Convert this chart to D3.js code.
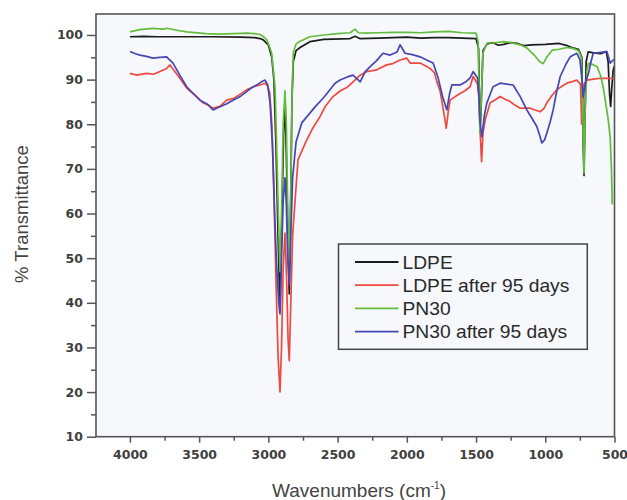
<!DOCTYPE html>
<html>
<head>
<meta charset="utf-8">
<script src="https://cdn.jsdelivr.net/npm/d3@7"></script>
<style>
  html, body { margin: 0; padding: 0; background: #ffffff; }
  svg { display: block; }
</style>
</head>
<body>
<div id="chart"></div>
<script>
// ---- Data (wavenumber cm-1, % transmittance) ----
const ldpe = [
  [4000, 99.6], [3900, 99.7], [3800, 99.6], [3600, 99.6], [3400, 99.6], [3200, 99.5], [3100, 99.4],
  [3060, 99.2], [3037, 98.9], [3001, 97.8], [2976, 95.1], [2960, 90], [2945, 75], [2930, 55],
  [2916, 38], [2905, 55], [2890, 78], [2878, 84], [2868, 70], [2858, 52], [2849, 42], [2840, 60],
  [2830, 85], [2820, 94], [2800, 96.5], [2771, 97.2], [2700, 98.5], [2600, 99], [2410, 99.2],
  [2374, 99.7], [2340, 99.2], [2200, 99.3], [2100, 99.4], [2000, 99.5], [1900, 99.3], [1800, 99.4],
  [1700, 99.4], [1600, 99.3], [1500, 99.2], [1482, 97], [1471, 78], [1462, 85], [1450, 96.5],
  [1420, 98], [1380, 98.3], [1340, 97.7], [1300, 97.9], [1250, 98.3], [1200, 98.1], [1150, 97.6],
  [1100, 97.8], [1000, 97.9], [900, 98.1], [840, 97.6], [799, 97.1], [760, 96.8], [736, 95],
  [726, 75], [720, 68.5], [714, 80], [705, 94], [690, 96.2], [650, 96], [600, 95.8], [560, 96.3],
  [546, 94], [536, 87], [528, 84], [520, 88], [510, 92], [502, 93]
];
const ldpeAged = [
  [4000, 91.4], [3950, 91], [3879, 91.4], [3830, 91.2], [3783, 91.8], [3735, 92.5], [3711, 93.3],
  [3680, 92], [3639, 90.3], [3590, 88.1], [3530, 86.5], [3472, 84.8], [3430, 84.2], [3400, 83.6],
  [3350, 84], [3301, 85.4], [3250, 85.8], [3200, 86.8], [3157, 87.7], [3100, 88.5], [3060, 88.8],
  [3024, 89.2], [3005, 88.5], [2990, 87], [2975, 80], [2960, 65], [2945, 45], [2930, 28],
  [2916, 20], [2905, 30], [2893, 48], [2880, 55.6], [2868, 45], [2858, 32], [2849, 27], [2838, 40],
  [2825, 55], [2800, 66], [2786, 72], [2730, 76], [2687, 78.7], [2627, 81.7], [2591, 83.9],
  [2533, 86.2], [2480, 87.5], [2430, 88.3], [2388, 89.5], [2337, 91], [2289, 91.8], [2217, 92.2],
  [2145, 93.3], [2100, 93.6], [2049, 94.4], [2000, 94.8], [1976, 93.7], [1904, 93.7], [1860, 93],
  [1832, 92.5], [1800, 91.5], [1783, 89.5], [1760, 87.5], [1736, 83.2], [1715, 79.1], [1700, 83],
  [1687, 85.4], [1650, 86.2], [1615, 86.9], [1580, 87.5], [1543, 88.4], [1521, 90.7], [1490, 89],
  [1480, 86], [1470, 78], [1460, 71.6], [1450, 78], [1434, 81], [1398, 84.8], [1360, 85.5],
  [1326, 86.2], [1290, 85.6], [1254, 85.1], [1220, 84.3], [1181, 83.6], [1109, 83.6], [1037, 82.8],
  [1010, 83.5], [989, 84.8], [950, 86.5], [917, 87.7], [880, 88.5], [844, 89.2], [800, 89.6],
  [772, 89.9], [746, 89], [737, 80], [730, 85], [720, 89], [699, 89.9], [650, 90.1], [603, 90.3],
  [550, 90.3], [500, 90.3]
];
const pn30 = [
  [4000, 100.7], [3930, 101.2], [3834, 101.5], [3760, 101.3], [3735, 101.5], [3650, 101], [3590, 100.7],
  [3450, 100.3], [3350, 100.2], [3250, 100.3], [3157, 100.4], [3100, 100.3], [3060, 100.1],
  [3030, 99.5], [3012, 98.9], [2990, 97.2], [2976, 95.9], [2952, 88.4], [2940, 75], [2928, 60],
  [2916, 47], [2905, 60], [2893, 80], [2880, 87.5], [2870, 80], [2860, 60], [2849, 46], [2838, 65],
  [2828, 88], [2820, 96], [2800, 98], [2771, 98.6], [2700, 99.6], [2600, 100], [2500, 100.3],
  [2410, 100.5], [2374, 101.3], [2350, 100.5], [2300, 100.4], [2200, 100.5], [2100, 100.6],
  [2000, 100.6], [1900, 100.5], [1800, 100.7], [1700, 100.8], [1600, 100.5], [1500, 100.4],
  [1485, 98.5], [1472, 78], [1462, 86], [1450, 96], [1420, 98.2], [1377, 98.2], [1300, 98.5],
  [1250, 98.3], [1180, 97.8], [1130, 97], [1080, 95.5], [1040, 94], [1015, 93.6], [990, 95],
  [950, 96.6], [900, 96.8], [844, 97.2], [800, 97], [760, 96.5], [740, 95], [728, 80], [720, 69],
  [713, 82], [700, 92], [688, 93.7], [650, 93.3], [625, 92.9], [600, 90.8], [582, 88.4],
  [560, 84], [545, 81], [531, 77], [522, 70], [516, 62]
];
const pn30Aged = [
  [4000, 96.3], [3960, 95.8], [3928, 95.5], [3880, 95.2], [3834, 94.8], [3783, 95], [3735, 95.1],
  [3689, 93.7], [3640, 91], [3590, 88.4], [3530, 86.5], [3494, 85.4], [3440, 84.5], [3400, 83.2],
  [3350, 83.9], [3300, 84.6], [3256, 85.4], [3200, 86.3], [3157, 87.3], [3120, 88.2], [3084, 88.8],
  [3050, 89.5], [3024, 89.9], [3005, 88.8], [2988, 84.8], [2970, 75], [2955, 60], [2940, 48],
  [2925, 40], [2916, 37.5], [2905, 50], [2893, 63], [2880, 68], [2870, 62], [2860, 50], [2849, 44],
  [2838, 55], [2825, 68], [2800, 76], [2759, 80.3], [2700, 82.5], [2663, 83.9], [2600, 86],
  [2518, 89.2], [2482, 89.9], [2430, 90.6], [2388, 91], [2337, 89.5], [2300, 91.8], [2265, 92.9],
  [2220, 94.2], [2172, 95.9], [2121, 95.5], [2070, 96.2], [2049, 97.8], [2013, 95.9], [1960, 95.6],
  [1904, 95.1], [1850, 94.3], [1810, 93.7], [1774, 90.4], [1740, 86], [1711, 83.2], [1690, 87],
  [1675, 88.8], [1615, 88.8], [1570, 89.6], [1543, 90.4], [1521, 91.8], [1490, 90.4], [1480, 87],
  [1470, 80], [1458, 77.2], [1440, 82], [1422, 84.8], [1377, 88.4], [1326, 89.2], [1280, 89],
  [1232, 88.8], [1181, 86.2], [1133, 83.2], [1100, 81.5], [1061, 79.5], [1040, 77.5], [1025, 75.8],
  [1005, 76.5], [989, 78], [965, 80.5], [943, 83.2], [920, 87], [892, 90.7], [850, 93.5],
  [820, 95.1], [772, 95.9], [750, 94.5], [738, 91], [726, 86], [712, 89], [688, 91.4], [670, 94],
  [654, 95.9], [600, 96.1], [555, 96.3], [531, 93.7], [509, 94.4], [500, 94.5]
];

const seriesNames = ["LDPE", "LDPE after 95 days", "PN30", "PN30 after 95 days"];
const seriesColors = ["#1c1c1c", "#ee4a40", "#62bd3c", "#4646b4"];
const yTicks = [10, 20, 30, 40, 50, 60, 70, 80, 90, 100];
const yMinorTicks = [15, 25, 35, 45, 55, 65, 75, 85, 95];
const xTicks = [4000, 3500, 3000, 2500, 2000, 1500, 1000, 500];
const xMinorTicks = [3750, 3250, 2750, 2250, 1750, 1250, 750];
const yTitle = "% Transmittance";
const xTitle = "Wavenumbers (cm";
const xTitleSup = "-1";

// ---- Layout ----
const W = 627, H = 500;
const plot = { left: 96, right: 614.5, top: 14, bottom: 436.7 };

const svg = d3.select("#chart").append("svg")
  .attr("width", W).attr("height", H);

const x = d3.scaleLinear().domain([4245, 500]).range([plot.left, plot.right]);
const y = d3.scaleLinear().domain([10, 104.7]).range([plot.bottom, plot.top]);

// plot background
svg.append("rect")
  .attr("x", plot.left).attr("y", plot.top)
  .attr("width", plot.right - plot.left).attr("height", plot.bottom - plot.top)
  .attr("fill", "#f6f8fc");

const tickFont = "'DejaVu Sans', sans-serif";
const axisColor = "#555";

// Y axis major
const yAxis = svg.append("g")
  .attr("transform", `translate(${plot.left},0)`)
  .call(d3.axisLeft(y).tickValues(yTicks).tickSize(9).tickPadding(4).tickFormat(d3.format("d")));
// Y axis minor
const yAxisMinor = svg.append("g")
  .attr("transform", `translate(${plot.left},0)`)
  .call(d3.axisLeft(y).tickValues(yMinorTicks).tickSize(5).tickFormat(""));
// X axis major
const xAxis = svg.append("g")
  .attr("transform", `translate(0,${plot.bottom})`)
  .call(d3.axisBottom(x).tickValues(xTicks).tickSize(6).tickPadding(7).tickFormat(d3.format("d")));
// X axis minor
const xAxisMinor = svg.append("g")
  .attr("transform", `translate(0,${plot.bottom})`)
  .call(d3.axisBottom(x).tickValues(xMinorTicks).tickSize(4).tickFormat(""));

[yAxis, yAxisMinor, xAxis, xAxisMinor].forEach(g => {
  g.select(".domain").remove();
  g.selectAll(".tick line").attr("stroke", axisColor).attr("stroke-width", 1.5);
  g.selectAll(".tick text")
    .attr("fill", "#404040")
    .style("font-family", tickFont)
    .style("font-weight", "bold")
    .style("font-size", "12.5px");
});

// curves
const line = d3.line()
  .x(d => x(d[0]))
  .y(d => y(d[1]));

const allSeries = [ldpe, ldpeAged, pn30, pn30Aged];
const curves = svg.append("g");
allSeries.forEach((s, i) => {
  curves.append("path")
    .datum(s)
    .attr("d", line)
    .attr("fill", "none")
    .attr("stroke", seriesColors[i])
    .attr("stroke-width", 1.7)
    .attr("stroke-linejoin", "round");
});

// frame
svg.append("rect")
  .attr("x", plot.left).attr("y", plot.top)
  .attr("width", plot.right - plot.left).attr("height", plot.bottom - plot.top)
  .attr("fill", "none")
  .attr("stroke", axisColor)
  .attr("stroke-width", 1.6);

// legend
const leg = { left: 338.5, top: 244, right: 587.3, bottom: 349.3 };
svg.append("rect")
  .attr("x", leg.left).attr("y", leg.top)
  .attr("width", leg.right - leg.left).attr("height", leg.bottom - leg.top)
  .attr("fill", "#f6f8fc")
  .attr("stroke", "#444")
  .attr("stroke-width", 1.5);

const legFont = "'Liberation Sans', Arial, sans-serif";
seriesNames.forEach((name, i) => {
  const cy = 262 + i * 23.2;
  svg.append("line")
    .attr("x1", 355).attr("x2", 398.5)
    .attr("y1", cy).attr("y2", cy)
    .attr("stroke", seriesColors[i])
    .attr("stroke-width", 1.8);
  const t = svg.append("text")
    .attr("x", 402.5).attr("y", cy + 6.6)
    .attr("fill", "#2a2a2a")
    .style("font-family", legFont)
    .style("font-size", "18.5px")
    .text(name);
  const len = t.node().getComputedTextLength();
  t.attr("textLength", len * 1.04).attr("lengthAdjust", "spacingAndGlyphs");
});

// axis titles
const yt = svg.append("text")
  .attr("transform", `translate(27.5,${214}) rotate(-90)`)
  .attr("text-anchor", "middle")
  .attr("fill", "#444")
  .style("font-family", legFont)
  .style("font-size", "18.5px")
  .text(yTitle);

const xt = svg.append("text")
  .attr("x", 359).attr("y", 496.5)
  .attr("text-anchor", "middle")
  .attr("fill", "#444")
  .style("font-family", legFont)
  .style("font-size", "19px");
xt.append("tspan").text(xTitle);
xt.append("tspan").attr("dy", -8).style("font-size", "10px").text(xTitleSup);
xt.append("tspan").attr("dy", 8).text(")");
</script>
</body>
</html>
